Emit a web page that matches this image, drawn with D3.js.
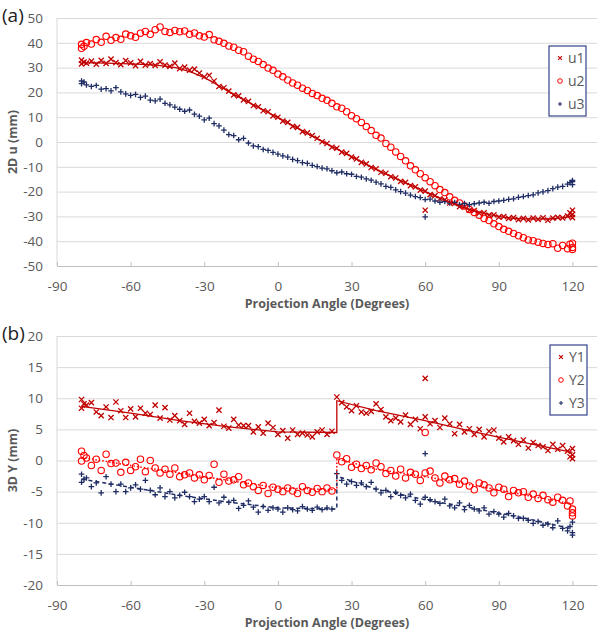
<!DOCTYPE html>
<html><head><meta charset="utf-8">
<script src="https://cdn.jsdelivr.net/npm/d3@7"></script>
<style>
html,body{margin:0;padding:0;background:#fff;}
svg{display:block;}
text{font-family:"Open Sans",sans-serif;}
</style></head>
<body>
<svg id="chart" width="600" height="631"></svg>
<script>
// ---------- DATA ----------
const xTicks = [-90, -60, -30, 0, 30, 60, 90, 120];
const topYTicks = [50, 40, 30, 20, 10, 0, -10, -20, -30, -40, -50];
const bottomYTicks = [20, 15, 10, 5, 0, -5, -10, -15, -20];

const angles = [
  -80, -80, -79, -78, -76, -74, -72, -70, -68, -66,
  -64, -62, -60, -58, -56, -54, -52, -50, -48, -46,
  -44, -42, -40, -38, -36, -34, -32, -30, -28, -26,
  -24, -22, -20, -18, -16, -14, -12, -10, -8, -6,
  -4, -2, 0, 2, 4, 6, 8, 10, 12, 14,
  16, 18, 20, 22, 24, 26, 28, 30, 32, 34,
  36, 38, 40, 42, 44, 46, 48, 50, 52, 54,
  56, 58, 60, 62, 64, 66, 68, 70, 72, 74,
  76, 78, 80, 82, 84, 86, 88, 90, 92, 94,
  96, 98, 100, 102, 104, 106, 108, 110, 112, 114,
  116, 118, 119, 120, 120, 120
];

const u1 = [
  31.5, 33.0, 32.2, 31.8, 32.6, 31.4, 32.9, 31.7, 33.4, 32.0,
  31.2, 32.8, 31.9, 30.8, 32.5, 31.0, 31.6, 30.9, 32.3, 31.0,
  30.5, 31.8, 29.6, 30.2, 29.0, 29.4, 27.8, 26.3, 26.9, 24.6,
  22.4, 21.9, 20.5, 19.0, 18.6, 17.0, 16.4, 14.7, 14.2, 12.6,
  12.2, 10.5, 10.0, 8.4, 7.9, 6.3, 5.9, 4.2, 3.7, 2.6,
  1.5, 0.1, -0.6, -2.1, -2.5, -4.1, -4.6, -6.1, -6.8, -8.2,
  -8.8, -10.3, -10.8, -12.2, -12.6, -14.0, -14.5, -15.9, -16.3, -17.6,
  -18.1, -19.4, -19.8, -21.2, -21.6, -22.9, -23.3, -24.6, -24.8, -26.1,
  -26.2, -27.5, -27.6, -28.7, -28.6, -29.5, -29.4, -30.3, -30.1, -30.8,
  -30.5, -31.3, -30.8, -31.4, -30.7, -31.2, -30.6, -31.5, -30.7, -30.4,
  -30.6, -29.9, -28.6, -27.5, -29.2, -30.5
];
const u2 = [
  37.8, 39.4, 38.6, 40.1, 39.5, 41.3, 40.2, 42.6, 41.0, 42.1,
  41.4, 43.5, 42.8, 42.2, 43.9, 44.6, 43.4, 45.3, 46.4, 44.6,
  44.2, 45.0, 44.5, 44.8, 43.4, 44.0, 42.8, 42.3, 43.3, 41.2,
  40.6, 39.8, 38.7, 38.2, 37.0, 36.4, 34.6, 33.4, 32.5, 31.2,
  29.8, 28.9, 27.4, 26.3, 25.0, 23.8, 22.9, 21.7, 20.8, 19.6,
  18.7, 17.6, 16.8, 15.6, 14.2, 13.6, 12.2, 10.6, 9.4, 7.9,
  6.2, 4.6, 2.7, 1.6, -0.6, -2.1, -4.0, -5.8, -7.6, -9.6,
  -11.2, -12.8, -14.4, -16.0, -17.6, -19.2, -20.4, -22.1, -23.5, -24.6,
  -25.8, -27.2, -28.4, -29.5, -30.8, -31.7, -33.0, -34.1, -35.2, -36.0,
  -36.9, -37.8, -38.6, -39.5, -39.8, -40.4, -40.9, -41.3, -41.0, -42.8,
  -41.7, -43.0, -41.2, -40.8, -42.5, -43.3
];
const u3 = [
  24.6, 23.5, 24.2, 23.0, 22.4, 22.8, 21.3, 21.5, 20.6, 21.9,
  20.2, 19.4, 18.8, 19.2, 18.0, 18.5, 16.9, 16.6, 17.3, 15.6,
  15.0, 14.1, 13.2, 12.4, 12.9, 11.2, 10.4, 8.9, 9.6, 7.4,
  6.5, 4.8, 3.0, 2.6, 0.9, 1.5, -0.4, -1.6, -1.9, -3.0,
  -3.4, -4.2, -4.9, -5.6, -6.1, -7.0, -7.5, -8.3, -8.6, -9.4,
  -9.9, -10.5, -10.8, -11.6, -12.4, -12.1, -12.8, -13.0, -13.9, -14.2,
  -14.9, -15.4, -16.2, -16.9, -17.9, -18.3, -19.3, -20.0, -20.6, -21.4,
  -22.0, -22.4, -23.2, -23.0, -23.8, -24.3, -24.0, -24.6, -24.4, -25.2,
  -24.8, -25.3, -24.9, -24.6, -24.3, -24.7, -24.0, -23.8, -23.5, -23.1,
  -22.9, -22.3, -22.0, -21.6, -21.3, -20.5, -20.1, -19.6, -18.8, -18.2,
  -17.9, -17.0, -16.4, -15.5, -17.2, -16.0
];
const topExtraAngles = [60];
const u1Extra = [-27.5];
const u3Extra = [-30.2];

const u1TrendAngles = [-80, -70, -60, -50, -40, -30, -20, -10, 0, 10, 20, 30, 40, 50, 60, 70, 80, 90, 100, 110, 120];
const u1Trend = [32, 31.8, 31.5, 31, 29.6, 26, 20.3, 15, 9.8, 4.5, -0.8, -5.9, -11, -15.6, -20, -24.3, -27.8, -30, -31, -31, -30];

const Y1 = [
  9.8, 8.4, 9.1, 8.9, 9.3, 7.8, 7.2, 8.6, 6.9, 9.4,
  8.0, 6.9, 8.3, 7.0, 8.4, 7.6, 7.4, 8.9, 6.8, 8.5,
  6.5, 7.2, 6.4, 5.8, 7.6, 6.3, 6.0, 6.6, 5.6, 6.1,
  8.1, 5.5, 5.2, 6.6, 5.7, 5.6, 5.6, 4.6, 5.4, 4.4,
  6.0, 5.3, 4.2, 4.8, 3.6, 4.9, 4.2, 4.4, 4.1, 3.8,
  4.6, 4.9, 4.2, 4.7, 10.2, 9.3, 8.6, 8.0, 8.8, 7.8,
  7.6, 7.9, 9.1, 8.2, 7.0, 6.4, 6.8, 6.2, 7.3, 5.8,
  6.6, 5.1, 7.0, 5.9, 6.4, 5.3, 6.8, 5.9, 4.3, 5.8,
  4.6, 5.1, 4.2, 5.0, 3.8, 4.7, 4.9, 3.6, 3.0, 3.8,
  3.2, 2.6, 3.3, 2.0, 2.9, 2.4, 2.2, 1.6, 2.6, 1.8,
  2.4, 1.5, 0.6, 1.9, 0.9, 0.3
];
const Y2 = [
  1.5, -0.1, 0.8, 0.4, -0.8, 0.2, -1.6, 1.0, -0.5, -0.4,
  -1.9, -0.3, -1.6, -1.0, 0.2, -1.8, 0.0, -1.2, -2.0, -1.4,
  -2.2, -1.2, -2.6, -2.3, -2.0, -2.8, -2.3, -3.1, -2.4, -0.6,
  -3.5, -2.2, -3.3, -3.1, -2.6, -3.9, -3.6, -4.2, -4.8, -4.0,
  -5.3, -4.3, -4.6, -5.0, -4.4, -4.9, -5.3, -4.2, -4.8, -5.1,
  -4.5, -5.0, -4.4, -4.9, 0.9, -0.2, 0.3, -1.1, -0.6, -1.3,
  -0.8, -1.5, -0.4, -1.0, -2.1, -1.6, -2.5, -1.4, -2.8, -1.9,
  -2.2, -3.2, -2.0, -1.7, -2.8, -3.6, -2.5, -3.1, -2.9, -3.8,
  -3.3, -4.1, -4.7, -3.6, -3.9, -4.4, -5.2, -4.3, -4.6, -5.8,
  -4.8, -5.2, -5.0, -5.9, -5.4, -6.1, -5.6, -6.3, -6.7, -5.9,
  -6.4, -7.3, -6.5, -7.8, -8.4, -8.9
];
const Y3 = [
  -2.2, -3.5, -3.0, -2.8, -4.2, -3.6, -5.2, -2.6, -3.8, -5.0,
  -3.8, -5.0, -4.4, -3.9, -4.6, -3.2, -4.8, -5.5, -4.4, -5.8,
  -5.0, -6.0, -5.6, -5.1, -5.8, -6.6, -6.2, -5.8, -6.6, -4.3,
  -6.8, -5.9, -6.7, -6.4, -7.7, -7.2, -6.5, -7.5, -8.3, -7.4,
  -8.0, -7.6, -7.8, -8.3, -7.6, -7.9, -8.1, -7.4, -7.8, -8.0,
  -7.5, -7.9, -7.6, -7.8, -2.1, -3.2, -3.8, -3.4, -4.0, -3.6,
  -4.2, -3.5, -4.6, -5.2, -4.8, -5.8, -5.1, -5.6, -6.0, -5.4,
  -6.4, -7.0, -5.9, -6.3, -6.6, -6.9, -6.2, -7.3, -7.6, -6.8,
  -7.9, -7.2, -7.8, -8.1, -7.6, -8.6, -8.2, -8.6, -9.1, -8.5,
  -8.9, -9.3, -9.3, -9.6, -10.1, -9.8, -10.4, -10.2, -10.8, -9.7,
  -10.9, -11.3, -10.6, -12.0, -11.6, -9.9
];
const bottomExtraAngles = [60];
const Y1Extra = [13.2];
const Y2Extra = [4.5];
const Y3Extra = [1.1];

const yTrendAngles = [-80, -60, -40, -20, 0, 24, 24, 40, 60, 80, 100, 120];
const Y1Trend = [8.7, 7.6, 6.4, 5.4, 4.6, 4.5, 9.6, 8.0, 6.4, 4.6, 2.9, 1.3];
const Y2Trend = [0.5, -0.8, -2.0, -3.2, -4.4, -4.7, 0.3, -1.4, -2.6, -4.0, -5.5, -7.0];
const Y3Trend = [-3.0, -4.3, -5.6, -6.7, -7.6, -7.8, -2.5, -4.6, -6.3, -7.7, -9.2, -11.0];

// ---------- DRAWING ----------
const svg = d3.select('#chart');
const DARKRED = '#C00000', RED = '#FF0000', NAVY = '#1F2D64';
const GRID = '#D9D9D9', AXIS = '#BFBFBF', TXT = '#595959';
const X0 = 57, X1 = 597;
const fmt = d => String(d);

const sym = {
  x: 'M-2.6,-2.6L2.6,2.6M-2.6,2.6L2.6,-2.6',
  plus: 'M-2.8,0L2.8,0M0,-2.8L0,2.8'
};

function drawMarkers(g, x, y, xs, ys, type, color) {
  const pts = d3.zip(xs, ys);
  if (type === 'o') {
    g.append('g').selectAll('circle').data(pts).join('circle')
      .attr('cx', d => x(d[0])).attr('cy', d => y(d[1])).attr('r', 3.2)
      .attr('fill', 'none').attr('stroke', color).attr('stroke-width', 1.1);
  } else {
    g.append('g').selectAll('path').data(pts).join('path')
      .attr('transform', d => `translate(${x(d[0])},${y(d[1])})`)
      .attr('d', sym[type]).attr('fill', 'none')
      .attr('stroke', color).attr('stroke-width', 1.3);
  }
}

function panel(cfg) {
  const g = svg.append('g');
  const x = d3.scaleLinear().domain([-90, 130]).range([X0, X1]);
  const y = d3.scaleLinear().domain(cfg.domain).range([cfg.bottom, cfg.top]);

  const ya = g.append('g').attr('transform', `translate(${X0},0)`)
    .call(d3.axisLeft(y).tickValues(cfg.yTicks).tickFormat(fmt).tickSize(-(X1 - X0)).tickPadding(14));
  ya.select('.domain').remove();
  ya.selectAll('.tick line').attr('stroke', GRID).attr('stroke-width', 1);
  ya.selectAll('.tick text').attr('fill', TXT).style('font-size', '13.5px')
    .style('font-family', '"Open Sans", sans-serif');
  g.append('line').attr('x1', X0).attr('x2', X0).attr('y1', cfg.top).attr('y2', cfg.bottom)
    .attr('stroke', GRID);

  const xa = g.append('g').attr('transform', `translate(0,${cfg.bottom})`)
    .call(d3.axisBottom(x).tickValues(xTicks).tickFormat(fmt).tickSizeInner(-4).tickSizeOuter(0).tickPadding(15));
  xa.select('.domain').attr('stroke', AXIS);
  xa.selectAll('.tick line').attr('stroke', AXIS);
  xa.selectAll('.tick text').attr('fill', TXT).style('font-size', '13.5px')
    .style('font-family', '"Open Sans", sans-serif');

  g.append('text').attr('x', (X0 + X1) / 2).attr('y', cfg.bottom + 42)
    .attr('text-anchor', 'middle').attr('fill', TXT)
    .style('font-size', '12.5px').style('font-weight', 'bold')
    .text('Projection Angle (Degrees)');
  g.append('text').attr('transform', `translate(17,${(cfg.top + cfg.bottom) / 2}) rotate(-90)`)
    .attr('text-anchor', 'middle').attr('fill', TXT)
    .style('font-size', '12.5px').style('font-weight', 'bold')
    .text(cfg.yTitle);
  g.append('text').attr('x', 2).attr('y', cfg.top + 4)
    .attr('fill', '#222').style('font-size', '19px').text(cfg.label);

  return {g, x, y};
}

// ----- Panel (a)
const A = panel({top: 18, bottom: 266, domain: [-50, 50], yTicks: topYTicks, yTitle: '2D u (mm)', label: '(a)'});
drawMarkers(A.g, A.x, A.y, angles, u1, 'x', DARKRED);
drawMarkers(A.g, A.x, A.y, topExtraAngles, u1Extra, 'x', DARKRED);
drawMarkers(A.g, A.x, A.y, angles, u2, 'o', RED);
drawMarkers(A.g, A.x, A.y, angles, u3, 'plus', NAVY);
drawMarkers(A.g, A.x, A.y, topExtraAngles, u3Extra, 'plus', NAVY);
A.g.append('path').datum(d3.zip(u1TrendAngles, u1Trend))
  .attr('d', d3.line().x(d => A.x(d[0])).y(d => A.y(d[1])).curve(d3.curveMonotoneX))
  .attr('fill', 'none').attr('stroke', DARKRED).attr('stroke-width', 1.4);

// ----- Panel (b)
const B = panel({top: 336, bottom: 585, domain: [-20, 20], yTicks: bottomYTicks, yTitle: '3D Y (mm)', label: '(b)'});
drawMarkers(B.g, B.x, B.y, angles, Y1, 'x', DARKRED);
drawMarkers(B.g, B.x, B.y, bottomExtraAngles, Y1Extra, 'x', DARKRED);
drawMarkers(B.g, B.x, B.y, angles, Y2, 'o', RED);
drawMarkers(B.g, B.x, B.y, bottomExtraAngles, Y2Extra, 'o', RED);
drawMarkers(B.g, B.x, B.y, angles, Y3, 'plus', NAVY);
drawMarkers(B.g, B.x, B.y, bottomExtraAngles, Y3Extra, 'plus', NAVY);
const tl = d3.line().x(d => B.x(d[0])).y(d => B.y(d[1]));
B.g.append('path').datum(d3.zip(yTrendAngles, Y1Trend)).attr('d', tl)
  .attr('fill', 'none').attr('stroke', DARKRED).attr('stroke-width', 1.3);
B.g.append('path').datum(d3.zip(yTrendAngles, Y2Trend)).attr('d', tl)
  .attr('fill', 'none').attr('stroke', RED).attr('stroke-width', 1.5).attr('stroke-dasharray', '1.5,2');
B.g.append('path').datum(d3.zip(yTrendAngles, Y3Trend)).attr('d', tl)
  .attr('fill', 'none').attr('stroke', NAVY).attr('stroke-width', 1.5).attr('stroke-dasharray', '4,3');

// ----- Legends
function legend(x0, y0, names, types, colors) {
  const g = svg.append('g');
  g.append('rect').attr('x', x0).attr('y', y0).attr('width', 37).attr('height', 70)
    .attr('fill', '#fff').attr('stroke', '#34418A').attr('stroke-width', 1.2);
  names.forEach((n, i) => {
    const cy = y0 + 12 + i * 23;
    const gg = g.append('g');
    if (types[i] === 'o') {
      gg.append('circle').attr('cx', x0 + 11).attr('cy', cy).attr('r', 2.3)
        .attr('fill', 'none').attr('stroke', colors[i]).attr('stroke-width', 1);
    } else {
      gg.append('path').attr('transform', `translate(${x0 + 11},${cy}) scale(0.75)`)
        .attr('d', sym[types[i]]).attr('stroke', colors[i]).attr('stroke-width', 1.5).attr('fill', 'none');
    }
    gg.append('text').attr('x', x0 + 19).attr('y', cy).attr('dy', '0.35em')
      .attr('fill', TXT).style('font-size', '14px').text(n);
  });
}
legend(549, 46, ['u1', 'u2', 'u3'], ['x', 'o', 'plus'], [DARKRED, RED, NAVY]);
legend(550, 345, ['Y1', 'Y2', 'Y3'], ['x', 'o', 'plus'], [DARKRED, RED, NAVY]);
</script>
</body></html>
